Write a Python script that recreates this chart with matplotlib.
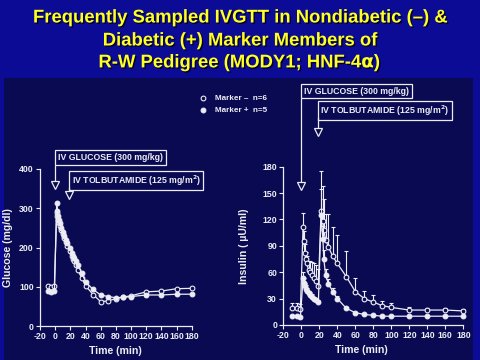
import matplotlib
matplotlib.use("Agg")
import matplotlib.pyplot as plt
from matplotlib.patches import Rectangle
from matplotlib.lines import Line2D
import matplotlib.patheffects as pe
from matplotlib.transforms import blended_transform_factory, offset_copy

plt.rcParams["axes.unicode_minus"] = False

# ---------------- data ----------------
time_min = [-10, -5, -1, 2, 3, 4, 5, 6, 8, 10, 12, 14, 16, 19,
            22, 24, 25, 27, 30, 35, 40, 50, 60, 70, 80, 90, 100,
            120, 140, 160, 180]

glucose_neg = [102, 100, 101, 289, 280, 270, 262, 255, 245, 235, 225, 215, 205, 190,
               178, 170, 165, 155, 142, 122, 103, 80, 62, 64, 70, 74, 77,
               87, 89, 95, 96]
glucose_pos = [88, 87, 88, 314, 292, 280, 270, 262, 250, 240, 230, 220, 212, 200,
               185, 178, 174, 165, 155, 135, 113, 93, 79, 75, 72, 73, 75,
               79, 79, 81, 81]

insulin_neg = [19, 19, 18, 112, 95, 82, 75, 70, 63, 60, 57, 54, 50, 44,
               130, 118, 108, 97, 89, 78, 70, 55, 38, 30, 26, 22, 20,
               17, 17, 17, 16]
insulin_neg_err = [6, 6, 6, 15, 12, 10, 8, 8, 10, 13, 15, 17, 18, 20,
                   45, 40, 35, 29, 37, 33, 32, 29, 15, 9, 8, 5, 5,
                   3, 2, 2, 2]
insulin_pos = [10, 10, 9, 54, 48, 44, 41, 39, 36, 34, 32, 30, 28, 26,
               125, 98, 75, 57, 47, 38, 30, 19, 14, 12, 11, 10, 10,
               10, 10, 10, 10]
insulin_pos_err = [1, 1, 1, 6, 5, 4, 4, 3, 3, 3, 3, 2, 2, 2,
                   30, 15, 10, 7, 5, 4, 3, 2, 1, 1, 1, 1, 1,
                   1, 1, 1, 1]

x_ticks = [-20, 0, 20, 40, 60, 80, 100, 120, 140, 160, 180]
glucose_ticks = [0, 100, 200, 300, 400]
insulin_ticks = [0, 30, 60, 90, 120, 150, 180]

glucose_event = 0
tolb_event = 18

title_lines = ["Frequently Sampled IVGTT in Nondiabetic (\u2013) &",
               "Diabetic (+) Marker Members of",
               "R-W Pedigree (MODY1; HNF-4$\\mathbf{\\alpha}$)"]
legend_labels = ["Marker \u2013  n=6", "Marker +  n=5"]
glucose_label = "IV GLUCOSE (300 mg/kg)"
tolb_label = "IV TOLBUTAMIDE (125 mg/m$^{\\mathbf{2}}$)"

# ---------------- style ----------------
W, H = 480, 360
OUTER = "#0b0b96"
PANEL = "#0a0a52"
FG = "#ececf4"
YELLOW = "#ffff22"
FONT = ["Liberation Sans", "DejaVu Sans"]

fig = plt.figure(figsize=(4.8, 3.6), dpi=100, facecolor=OUTER)
fig.patches.append(Rectangle((4 / W, 0), 469 / W, 1 - 78 / H, transform=fig.transFigure,
                             facecolor=PANEL, edgecolor="none", zorder=-10))

for line, ypx in zip(title_lines, [18, 41, 63]):
    fig.text(0.5, 1 - ypx / H, line, ha="center", va="center", color=YELLOW,
             fontsize=13.3, fontweight="bold", family=FONT,
             path_effects=[pe.withSimplePatchShadow(offset=(1, -1), shadow_rgbFace="#000020", alpha=0.9)])


def px_axes(l, t, r, b):
    ax = fig.add_axes([l / W, 1 - b / H, (r - l) / W, (b - t) / H])
    ax.set_zorder(5)
    return ax


def style_axes(ax, yticks, ylabel, xlabel_x, ylabel_x):
    ax.set_facecolor("none")
    for s in ["top", "right"]:
        ax.spines[s].set_visible(False)
    for s in ["left", "bottom"]:
        ax.spines[s].set_color(FG)
        ax.spines[s].set_linewidth(0.9)
    ax.set_xlim(-20, 180)
    ax.set_ylim(yticks[0], yticks[-1])
    ax.set_xticks(x_ticks)
    ax.set_yticks(yticks)
    ax.tick_params(colors=FG, direction="out", length=3, width=0.8, labelsize=6.3, pad=1.5)
    for lab in ax.get_xticklabels() + ax.get_yticklabels():
        lab.set_fontweight("bold")
        lab.set_family(FONT)
    ax.set_xlabel("Time (min)", color=FG, fontsize=7.6, fontweight="bold", family=FONT)
    ax.set_ylabel(ylabel, color=FG, fontsize=7.6, fontweight="bold", family=FONT)
    ax.xaxis.set_label_coords(xlabel_x, -0.125)
    ax.yaxis.set_label_coords(ylabel_x, 0.5)


def annotate_event(ax, x, label, box_mid_px, line_top_px, tri_px):
    tr = blended_transform_factory(ax.transData, fig.transFigure)
    ax.text(x, 1 - box_mid_px / H, label, transform=offset_copy(tr, fig=fig, x=2.0, units="points"),
            ha="left", va="center", color=FG, fontsize=6.3, fontweight="bold", family=FONT,
            bbox=dict(boxstyle="square,pad=0.3", facecolor="none", edgecolor=FG, linewidth=0.9),
            clip_on=False)
    ax.plot([x, x], [1 - line_top_px / H, 1 - tri_px / H], transform=tr, color=FG, lw=0.9,
            clip_on=False)
    ax.plot([x], [1 - tri_px / H], transform=tr, marker="v", markersize=5.5,
            markerfacecolor=PANEL, markeredgecolor=FG, markeredgewidth=0.9, clip_on=False)


def draw_series(ax, y, err, filled):
    kw = dict(color=FG, lw=0.9, marker="o", markersize=3.4, markeredgecolor=FG,
              markeredgewidth=0.8, markerfacecolor=FG if filled else PANEL, clip_on=False)
    if err is not None:
        ax.errorbar(time_min, y, yerr=[[0] * len(err), err], ecolor=FG, elinewidth=0.8,
                    capsize=1.6, capthick=0.8, fmt="none", clip_on=False)
    ax.plot(time_min, y, **kw)


# glucose panel
ax1 = px_axes(40, 169, 191.7, 326)
style_axes(ax1, glucose_ticks, "Glucose (mg/dl)", 0.5, -0.175)
draw_series(ax1, glucose_neg, None, False)
draw_series(ax1, glucose_pos, None, True)
annotate_event(ax1, glucose_event, glucose_label, 157.5, 166, 185)
annotate_event(ax1, tolb_event, tolb_label, 180.5, 188, 195)

# insulin panel
ax2 = px_axes(283.3, 166.7, 463.3, 325)
style_axes(ax2, insulin_ticks, "Insulin ( \u00b5U/ml)", 0.436, -0.19)
draw_series(ax2, insulin_neg, insulin_neg_err, False)
draw_series(ax2, insulin_pos, insulin_pos_err, True)
annotate_event(ax2, glucose_event, glucose_label, 91, 99, 186)
annotate_event(ax2, tolb_event, tolb_label, 110.5, 118, 132)

# legend
for lab, ypx, filled in zip(legend_labels, [98, 110], [False, True]):
    fig.add_artist(Line2D([203 / W], [1 - ypx / H], transform=fig.transFigure, marker="o",
                          markersize=3.4, markeredgecolor=FG, markeredgewidth=0.8,
                          markerfacecolor=FG if filled else PANEL, linestyle="none"))
    fig.text(215 / W, 1 - ypx / H, lab, ha="left", va="center", color=FG, fontsize=5.9,
             fontweight="bold", family=FONT)

fig.savefig("out.png", dpi=100, facecolor=OUTER)
